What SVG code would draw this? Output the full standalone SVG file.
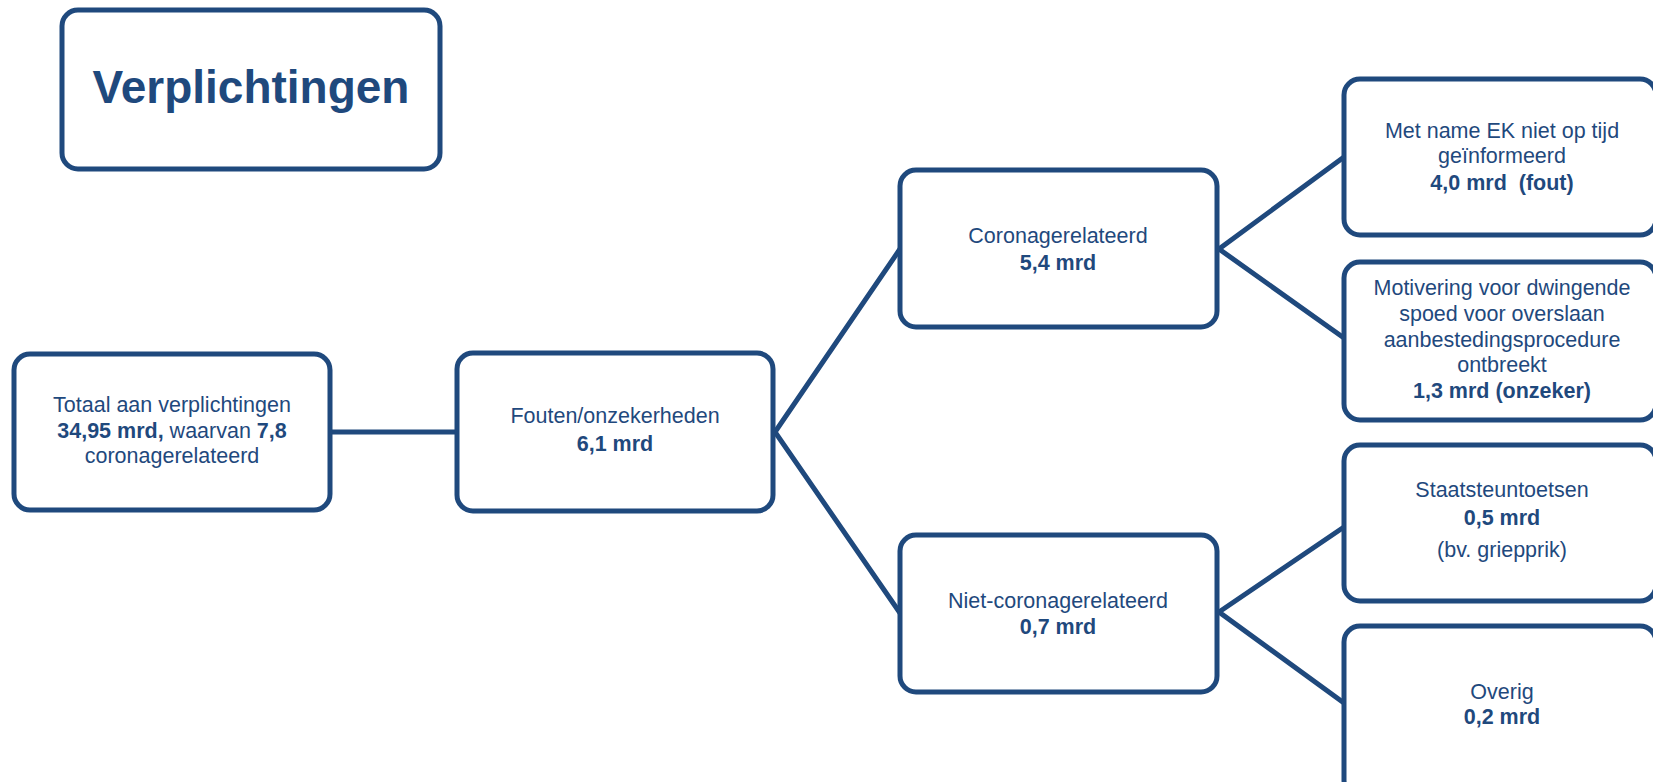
<svg xmlns="http://www.w3.org/2000/svg" width="1653" height="782" viewBox="0 0 1653 782">
<style>
.box{fill:#fff;stroke:#1F497D;stroke-width:5}
.lnk{fill:none;stroke:#1F497D;stroke-width:5;stroke-linecap:butt}
text{font-family:"Liberation Sans",Arial,sans-serif;fill:#1F497D;text-anchor:middle;font-size:21.5px}
.b{font-weight:bold}
.title{font-size:46px;font-weight:bold}
</style>
<rect width="1653" height="782" fill="#fff"/>
<g id="connectors">
<line class="lnk" x1="332" y1="432" x2="455" y2="432"/>
<polyline class="lnk" points="900,249 775,432 900,613"/>
<polyline class="lnk" points="1344,157 1219,249 1344,338"/>
<polyline class="lnk" points="1344,527 1219,612 1344,703"/>
</g>
<g id="title">
<rect class="box" x="62" y="10" width="378" height="159" rx="16"/>
<text class="title" x="251" y="103">Verplichtingen</text>
</g>
<g id="totaal">
<rect class="box" x="14" y="354" width="316" height="156" rx="16"/>
<text x="172" y="412">Totaal aan verplichtingen</text>
<text x="172" y="438"><tspan class="b">34,95 mrd,</tspan> waarvan <tspan class="b">7,8</tspan></text>
<text x="172" y="463">coronagerelateerd</text>
</g>
<g id="fouten">
<rect class="box" x="457" y="353" width="316" height="158" rx="16"/>
<text x="615" y="423">Fouten/onzekerheden</text>
<text class="b" x="615" y="451">6,1 mrd</text>
</g>
<g id="corona">
<rect class="box" x="900" y="170" width="317" height="157" rx="16"/>
<text x="1058" y="243">Coronagerelateerd</text>
<text class="b" x="1058" y="270">5,4 mrd</text>
</g>
<g id="nietcorona">
<rect class="box" x="900" y="535" width="317" height="157" rx="16"/>
<text x="1058" y="608">Niet-coronagerelateerd</text>
<text class="b" x="1058" y="634">0,7 mrd</text>
</g>
<g id="ek">
<rect class="box" x="1344" y="79" width="312" height="156" rx="16"/>
<text x="1502" y="138">Met name EK niet op tijd</text>
<text x="1502" y="163">geïnformeerd</text>
<text class="b" x="1502" y="190" xml:space="preserve">4,0 mrd  (fout)</text>
</g>
<g id="motivering">
<rect class="box" x="1344" y="262" width="312" height="158" rx="16"/>
<text x="1502" y="295">Motivering voor dwingende</text>
<text x="1502" y="321">spoed voor overslaan</text>
<text x="1502" y="347">aanbestedingsprocedure</text>
<text x="1502" y="372">ontbreekt</text>
<text class="b" x="1502" y="398">1,3 mrd (onzeker)</text>
</g>
<g id="staatsteun">
<rect class="box" x="1344" y="445" width="312" height="156" rx="16"/>
<text x="1502" y="497">Staatsteuntoetsen</text>
<text class="b" x="1502" y="525">0,5 mrd</text>
<text x="1502" y="557">(bv. griepprik)</text>
</g>
<g id="overig">
<rect class="box" x="1344" y="626" width="312" height="170" rx="16"/>
<text x="1502" y="699">Overig</text>
<text class="b" x="1502" y="724">0,2 mrd</text>
</g>
</svg>
